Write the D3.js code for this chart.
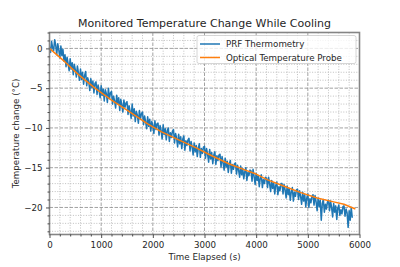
<!DOCTYPE html>
<html><head><meta charset="utf-8">
<script src="https://cdn.jsdelivr.net/npm/d3@7"></script>
<style>body{margin:0;background:#fff}svg{display:block}text{font-family:"DejaVu Sans",sans-serif;fill:#262626}</style>
</head><body><svg id="c" width="400" height="267"></svg>
<script>
const title = "Monitored Temperature Change While Cooling";
const xLabel = "Time Elapsed (s)";
const yLabel = "Temperature change (°C)";
const seriesNames = ["PRF Thermometry", "Optical Temperature Probe"];
const xTicks = [0, 1000, 2000, 3000, 4000, 5000, 6000];
const yTicks = [0, -5, -10, -15, -20];

// PRF thermometry: one value every 20 s from t = 0
const prfStep = 20;
const prfValues = [
  0.2, -0.5, 0.9, 0.1, -0.3, 1.1, 0.4, -0.8, 0.6, -0.2, -1.2, 0.3, -0.9, -0.1, -1.6,
  -0.8, -2.3, -1.1, -1.9, -2.8, -1.3, -2.6, -1.8, -3.3, -2.0, -2.7, -3.6, -2.2, -3.1, -4.0,
  -2.6, -3.9, -3.0, -4.5, -3.4, -2.9, -4.7, -3.7, -4.2, -5.3, -3.8, -4.9, -4.1, -5.6, -4.4,
  -4.2, -5.8, -4.6, -5.3, -6.2, -4.7, -5.9, -5.1, -6.6, -5.2, -5.7, -6.8, -5.0, -6.3, -5.6,
  -5.4, -7.0, -6.0, -6.6, -7.5, -5.9, -6.9, -6.2, -7.8, -6.4, -7.1, -8.0, -6.5, -7.4, -6.9,
  -6.7, -8.3, -7.2, -7.9, -8.8, -7.0, -8.5, -7.6, -9.2, -7.9, -8.4, -9.4, -7.8, -8.9, -8.2,
  -8.0, -9.6, -8.5, -9.2, -10.1, -8.6, -9.8, -8.9, -10.4, -9.2, -9.7, -10.7, -9.1, -10.2, -9.5,
  -9.4, -10.9, -9.7, -10.3, -11.4, -9.6, -10.8, -10.1, -11.5, -10.3, -10.0, -11.7, -10.6, -11.2, -10.4,
  -10.2, -11.9, -10.7, -11.3, -12.4, -10.8, -12.0, -11.1, -12.6, -11.4, -11.0, -12.8, -11.6, -12.2, -11.5,
  -11.3, -12.9, -11.7, -12.4, -13.4, -11.9, -13.0, -12.2, -13.6, -12.5, -12.0, -13.7, -12.6, -13.2, -12.4,
  -12.3, -13.8, -12.6, -13.3, -14.3, -12.7, -13.9, -13.1, -14.5, -13.4, -13.0, -14.6, -13.5, -14.1, -13.4,
  -13.3, -14.9, -13.6, -14.4, -15.3, -13.8, -14.9, -14.2, -15.6, -14.5, -14.1, -15.7, -14.6, -15.2, -14.5,
  -14.4, -15.8, -14.7, -15.3, -16.2, -14.8, -15.9, -15.1, -16.4, -15.5, -15.0, -16.6, -15.6, -16.0, -15.3,
  -15.4, -16.7, -15.2, -16.1, -17.1, -15.7, -16.6, -16.0, -17.4, -16.3, -15.9, -17.5, -16.5, -17.0, -16.2,
  -16.3, -17.5, -16.2, -17.0, -18.0, -16.6, -17.6, -16.9, -18.3, -17.2, -16.8, -18.4, -17.4, -17.9, -17.0,
  -17.0, -18.3, -17.1, -17.8, -18.8, -17.3, -18.4, -17.6, -19.1, -18.0, -17.5, -19.2, -18.1, -18.6, -17.8,
  -17.7, -19.0, -17.9, -18.6, -19.6, -18.1, -19.2, -18.4, -19.9, -18.8, -18.3, -20.0, -18.9, -19.4, -18.6,
  -18.4, -19.7, -18.5, -19.3, -20.4, -18.8, -19.9, -19.1, -21.6, -19.5, -19.0, -20.6, -19.6, -20.2, -19.3,
  -19.1, -20.4, -19.2, -20.0, -21.2, -19.5, -20.6, -19.8, -21.5, -20.1, -19.7, -21.0, -20.3, -20.8, -19.9,
  -19.8, -21.1, -20.2, -20.7, -22.5, -20.4, -21.6, -20.0, -21.3
];

// Optical probe
const probeTimes  = [0, 300, 560, 880, 1200, 1530, 1900, 2170, 2500, 2820, 3140, 3470, 3790, 4000, 4210, 4530, 4850, 5180, 5500, 5700, 5920];
const probeValues = [0, -1.7, -3.3, -5.0, -6.5, -7.9, -9.5, -10.5, -11.5, -12.45, -13.5, -14.5, -15.3, -15.8, -16.5, -17.3, -18.1, -18.8, -19.3, -19.6, -20.2];

const prf = prfValues.map((v, i) => [i * prfStep, v]);
const probe = probeTimes.map((t, i) => [t, probeValues[i]]);

const L = 49.5, R = 359.5, T = 32.5, B = 234.5;
const x = d3.scaleLinear().domain([0, 6000]).range([L, R]);
const y = d3.scaleLinear().domain([-23.4, 2.0]).range([B, T]);
const svg = d3.select("#c");

const xMinor = d3.range(0, 6001, 200).filter(v => v % 1000 !== 0);
const yMinor = d3.range(-23, 3, 1).filter(v => v % 5 !== 0);

const g = svg.append("g");
g.selectAll(".mx").data(xMinor).join("line")
  .attr("x1", d => x(d)).attr("x2", d => x(d)).attr("y1", T).attr("y2", B)
  .attr("stroke", "#b0b0b0").attr("stroke-width", 0.8).attr("stroke-dasharray", "1,1.6");
g.selectAll(".my").data(yMinor).join("line")
  .attr("y1", d => y(d)).attr("y2", d => y(d)).attr("x1", L).attr("x2", R)
  .attr("stroke", "#b0b0b0").attr("stroke-width", 0.8).attr("stroke-dasharray", "1,1.6");
g.selectAll(".Mx").data(xTicks).join("line")
  .attr("x1", d => x(d)).attr("x2", d => x(d)).attr("y1", T).attr("y2", B)
  .attr("stroke", "#8a8a8a").attr("stroke-width", 0.8).attr("stroke-dasharray", "3.5,1.5");
g.selectAll(".My").data(yTicks).join("line")
  .attr("y1", d => y(d)).attr("y2", d => y(d)).attr("x1", L).attr("x2", R)
  .attr("stroke", "#8a8a8a").attr("stroke-width", 0.8).attr("stroke-dasharray", "3.5,1.5");

const line = d3.line().x(d => x(d[0])).y(d => y(d[1]));
svg.append("path").datum(prf).attr("d", line).attr("fill", "none")
  .attr("stroke", "#1f77b4").attr("stroke-width", 1.5).attr("stroke-linejoin", "round");
svg.append("path").datum(probe).attr("d", line).attr("fill", "none")
  .attr("stroke", "#ff7f0e").attr("stroke-width", 1.5).attr("stroke-linejoin", "round");

svg.append("rect").attr("x", L).attr("y", T).attr("width", R - L).attr("height", B - T)
  .attr("fill", "none").attr("stroke", "#858585").attr("stroke-width", 1.6);

svg.append("g").attr("transform", `translate(0,${B})`)
  .call(d3.axisBottom(x).tickValues(xTicks).tickFormat(d3.format("d")).tickSize(3.5).tickPadding(3.5));
svg.append("g").attr("transform", `translate(${L},0)`)
  .call(d3.axisLeft(y).tickValues(yTicks).tickFormat(d => d < 0 ? "\u2212" + Math.abs(d) : d).tickSize(3.5).tickPadding(3.5));
svg.append("g").attr("transform", `translate(0,${B})`)
  .call(d3.axisBottom(x).tickValues(xMinor).tickFormat("").tickSize(2));
svg.append("g").attr("transform", `translate(${L},0)`)
  .call(d3.axisLeft(y).tickValues(yMinor).tickFormat("").tickSize(2));
svg.selectAll(".domain").remove();
svg.selectAll(".tick line").attr("stroke", "#262626").attr("stroke-width", 0.8);
svg.selectAll(".tick text").attr("font-size", "8.7px").attr("font-family", "DejaVu Sans").attr("fill", "#262626");

svg.append("text").attr("x", (L + R) / 2).attr("y", 26.5).attr("text-anchor", "middle")
  .attr("font-size", "11px").text(title);
svg.append("text").attr("x", (L + R) / 2).attr("y", 259.5).attr("text-anchor", "middle")
  .attr("font-size", "8.7px").text(xLabel);
svg.append("text").attr("transform", `translate(19,${(T + B) / 2}) rotate(-90)`).attr("text-anchor", "middle")
  .attr("font-size", "8.7px").text(yLabel);

const lg = svg.append("g");
lg.append("rect").attr("x", 197).attr("y", 35.5).attr("width", 159).attr("height", 28).attr("rx", 2)
  .attr("fill", "#fff").attr("fill-opacity", 0.8).attr("stroke", "#ccc").attr("stroke-width", 0.8);
const colors = ["#1f77b4", "#ff7f0e"];
seriesNames.forEach((n, i) => {
  const yy = 44 + i * 13.5;
  lg.append("line").attr("x1", 200).attr("x2", 220).attr("y1", yy).attr("y2", yy)
    .attr("stroke", colors[i]).attr("stroke-width", 1.5);
  lg.append("text").attr("x", 226).attr("y", yy + 3.1).attr("font-size", "8.7px").text(n);
});
</script></body></html>
